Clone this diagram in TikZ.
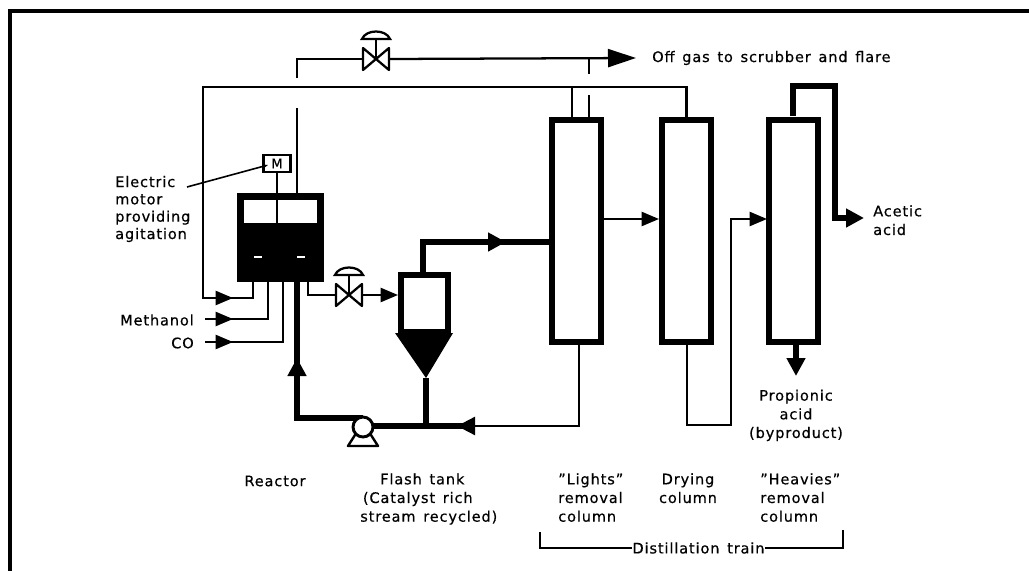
\documentclass[tikz,border=0pt]{standalone}
\usepackage{fontspec}
\setmainfont[LetterSpace=6, WordSpace=1.4, FakeBold=0.5]{DejaVu Sans}
\usetikzlibrary{arrows.meta, positioning, calc}

\begin{document}
\begin{tikzpicture}[x=0.75pt, y=-0.75pt,
  node distance=12pt and 12pt,
  pipe/.style={line width=1.7pt},
  trunk/.style={line width=4.2pt},
  frameline/.style={line width=2.4pt},
  through/.style={shorten <=-8pt},
  arrS/.style={-{Triangle[length=13pt,width=10.5pt]}},
  arrL/.style={-{Triangle[length=13.5pt,width=13.5pt]}},
  arrG/.style={-{Triangle[length=21pt,width=13.5pt]}},
  column/.style={draw, line width=4.5pt, fill=white, minimum width=36.75pt,
                 minimum height=166.5pt, inner sep=0pt},
  tank/.style={draw, line width=4.5pt, fill=white, minimum width=35.25pt,
               minimum height=42.75pt, inner sep=0pt},
  reactorbody/.style={fill=black, minimum width=65.25pt, minimum height=66.75pt, inner sep=0pt},
  motorbox/.style={draw, line width=1.8pt, fill=white, minimum width=20pt, minimum height=13pt,
                   inner sep=0pt, font=\fontsize{10}{10}\selectfont},
  pumpbody/.style={circle, draw, line width=2.2pt, fill=white, minimum size=15pt, inner sep=0pt},
  valve/.style={minimum width=20.25pt, minimum height=15pt, inner sep=0pt, outer sep=0pt},
  lab/.style={inner sep=0pt, align=center, font=\fontsize{10.9}{14}\selectfont},
  labl/.style={lab, align=left},
  valvebody/.pic={
    \draw[pipe, fill=white, line join=round] (-13,-11) -- (13,11) -- (13,-11) -- (-13,11) -- cycle;
    \draw[pipe] (0,0) -- (0,-20);
    \draw[pipe, fill=white] (-14,-20) .. controls (-10,-30) and (10,-30) .. (14,-20) -- cycle;
  }
]
\useasboundingbox (0,0) rectangle (1029,571);

% Frame
\coordinate (frametr) at (1029,11);
\coordinate (frametl) at (10,11);
\coordinate (framebl) at (10,571);
\draw[frameline] (frametr) -- (frametl) -- (framebl);

% Columns
\node[column] (lights) at (576.5,231) {};
\node[column, right=41.25pt of lights] (drying) {};
\node[column, right=39pt of drying] (heavies) {};

% Reactor
\node[reactorbody] (reactor) at (280,237.5) {};
\node[fill=white, minimum width=54.75pt, minimum height=17.25pt, inner sep=0pt] (headspace) at (280.5,211.5) {};
\node[fill=white, minimum width=6pt, minimum height=1.5pt, inner sep=0pt] (dashl) at (258,257) {};
\node[fill=white, minimum width=6pt, minimum height=1.5pt, inner sep=0pt] (dashr) at (301,257) {};
\node[motorbox] (motor) at (277,163.5) {M};
\coordinate (shaftend) at (277,223);
\draw[pipe] (motor) -- (shaftend);
\coordinate (ventstub) at (297,108);
\coordinate (venttop) at (297,193);
\draw[pipe] (ventstub) -- (venttop);

% Flash tank
\node[tank] (flash) at (424.5,303.5) {};
\coordinate (conel) at (395,333);
\coordinate (coner) at (453,333);
\coordinate (conetip) at (426,378);
\fill (conel) -- (coner) -- (conetip) -- cycle;

% Off gas line
\node[valve] (offvalve) at (376,59) {};
\coordinate (ventleft) at (297,78);
\coordinate (gastip) at (636,58);
\coordinate (gasdrop) at (589,58);
\coordinate (gasstub) at (589,74);
\draw[pipe] (ventleft) |- (offvalve.west);
\draw[pipe, arrG] (offvalve.east) -- (gastip);
\draw[pipe] (gasdrop) -- (gasstub);
\pic at (offvalve) {valvebody};
\node[lab, right=12pt of gastip] (gaslabel) {Off gas to scrubber and flare};

% Recycle loop
\coordinate (looptop) at (203,87);
\coordinate (loopdrop) at (572,87);
\coordinate (loopend) at (572,117);
\coordinate (lightsstub) at (589,95);
\coordinate (lightstop) at (589,117);
\coordinate (looptip) at (233,298);
\coordinate (loopin) at (253,282);
\draw[pipe, arrS] (drying.north) |- (looptop) |- (looptip);
\draw[pipe, through] (looptip) -| (loopin);
\draw[pipe] (loopdrop) -- (loopend);
\draw[pipe] (lightsstub) -- (lightstop);

% Feeds
\coordinate (methstart) at (205,319);
\coordinate (methtip) at (233,319);
\coordinate (methin) at (268,282);
\coordinate (costart) at (205,342);
\coordinate (cotip) at (233,342);
\coordinate (coin) at (283,282);
\draw[pipe, arrS] (methstart) -- (methtip);
\draw[pipe, through] (methtip) -| (methin);
\draw[pipe, arrS] (costart) -- (cotip);
\draw[pipe, through] (cotip) -| (coin);
\node[lab, anchor=east] (methlabel) at (194,320) {Methanol};
\node[lab, anchor=east] (colabel) at (194,343) {CO};

% Reactor to flash tank
\node[valve] (flashvalve) at (349,295) {};
\coordinate (rout) at (308,282);
\coordinate (flashtip) at (398,295);
\draw[pipe] (rout) |- (flashvalve.west);
\draw[pipe, arrS] (flashvalve.east) -- (flashtip);
\pic at (flashvalve) {valvebody};

% Flash tank to lights column
\coordinate (flashout) at (423,272);
\coordinate (vaporcorner) at (423,242);
\coordinate (vaportip) at (506,242);
\coordinate (vaporend) at (551,242);
\draw[trunk, arrL] (flashout) -- (vaporcorner) -- (vaportip);
\draw[trunk, through] (vaportip) -- (vaporend);

% Catalyst recycle
\coordinate (pumpout) at (363,418);
\coordinate (uptip) at (297,358);
\coordinate (rin) at (297,282);
\coordinate (lightsout) at (579,345);
\coordinate (returntip) at (457,426);
\coordinate (flashdrop) at (426,426);
\draw[trunk, arrL] (pumpout) -| (uptip);
\draw[trunk, through] (uptip) -- (rin);
\draw[pipe, arrL] (lightsout) |- (returntip);
\draw[trunk, through] (returntip) -- (368,426);
\draw[trunk] (conetip) -- (flashdrop);
\coordinate (basel) at (348,446);
\coordinate (baser) at (378,446);
\draw[line width=1.8pt, fill=white, line join=round] (basel) -- (baser) -- (371,435) -- (355,435) -- cycle;
\node[pumpbody] (pump) at (363,427) {};

% Lights to drying
\coordinate (dryingtip) at (659,219);
\coordinate (lightsside) at (604,219);
\draw[pipe, arrS] (lightsside) -- (dryingtip);

% Drying to heavies
\coordinate (dryingout) at (687,345);
\coordinate (dryingcorner) at (731,425);
\coordinate (heavytip) at (767,219);
\draw[pipe, arrS] (dryingout) |- (dryingcorner) |- (heavytip);

% Acetic acid overhead
\coordinate (heavyout) at (793,116);
\coordinate (heavytop) at (793,86);
\coordinate (heavyright) at (835,86);
\coordinate (acetictip) at (864,218);
\draw[line width=3.8pt, arrL] (heavyout) -- (heavytop) -- (heavyright) |- (acetictip);
\node[labl, anchor=north west] (aceticlabel) at (873,205) {Acetic\\acid};

% Propionic acid
\coordinate (propstart) at (796,345);
\coordinate (proptip) at (796,376);
\draw[line width=3.8pt, arrL] (propstart) -- (proptip);
\node[lab, below=11pt of proptip, yshift=1pt] (proplabel) {Propionic\\acid\\(byproduct)};

% Motor label
\node[labl, anchor=west, font=\fontsize{10.9}{13}\selectfont] (motorlabel) at (115,209) {Electric\\motor\\providing\\agitation};
\coordinate (leaderstart) at (187,187);
\coordinate (leaderend) at (268,165);
\draw[line width=1.2pt, -{Stealth[length=4pt]}] (leaderstart) -- (leaderend);

% Unit labels
\node[lab] (reactorlabel) at (275,481) {Reactor};
\node[labl, anchor=north west] (flashlabel) at (360,473) {\hspace*{15pt}Flash tank\\\hspace*{2pt}(Catalyst rich\\stream recycled)};
\node[labl, anchor=north west] (lightslabel) at (558,473) {"Lights"\\removal\\column};
\node[lab, anchor=north] (dryinglabel) at (688,473) {Drying\\column};
\node[labl, anchor=north west] (heavieslabel) at (760,473) {"Heavies"\\removal\\column};

% Distillation train
\node[lab] (trainlabel) at (698.5,548) {Distillation train};
\coordinate (trainl) at (540,532);
\coordinate (trainr) at (843,530);
\draw[pipe] (trainl) |- (trainlabel.west);
\draw[pipe] (trainr) |- (trainlabel.east);
\end{tikzpicture}
\end{document}
